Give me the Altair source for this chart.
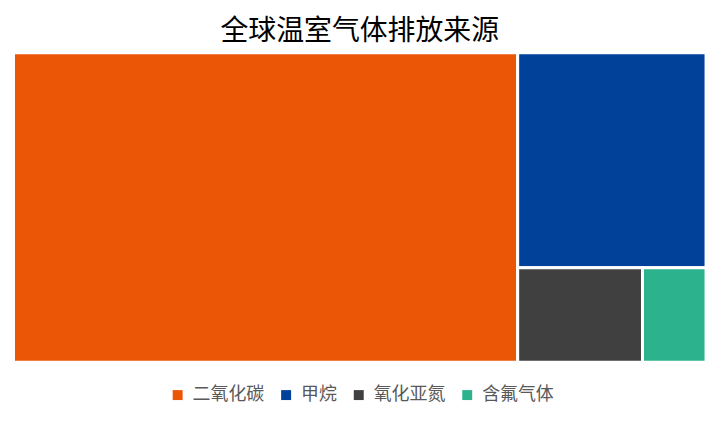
import altair as alt
import pandas as pd

# ---- data ----
gases = ["二氧化碳", "甲烷", "氧化亚氮", "含氟气体"]
shares = [72.8, 18.9, 5.5, 2.8]
colors = ["#EB5506", "#01419A", "#404040", "#2CB38E"]

title_text = "全球温室气体排放来源"

W, H = 696, 311


def squarify(values, x, y, w, h):
    """Squarified treemap layout; returns list of (x0, y0, x1, y1)."""
    total = sum(values)
    scale = w * h / total
    areas = [v * scale for v in values]
    rects = []

    def worst(row, side):
        s = sum(row)
        return max(max(side * side * r / (s * s), (s * s) / (side * side * r)) for r in row)

    def layout(row, x, y, w, h):
        s = sum(row)
        out = []
        if w >= h:  # column on the left
            cw = s / h
            cy = y
            for r in row:
                rh = r / cw
                out.append((x, cy, x + cw, cy + rh))
                cy += rh
            return out, (x + cw, y, w - cw, h)
        else:  # row on top
            rh = s / w
            cx = x
            for r in row:
                rw = r / rh
                out.append((cx, y, cx + rw, y + rh))
                cx += rw
            return out, (x, y + rh, w, h - rh)

    rest = list(areas)
    row = []
    while rest:
        side = min(w, h)
        cand = row + [rest[0]]
        if not row or worst(cand, side) <= worst(row, side):
            row = cand
            rest.pop(0)
        else:
            out, (x, y, w, h) = layout(row, x, y, w, h)
            rects += out
            row = []
    if row:
        out, _ = layout(row, x, y, w, h)
        rects += out
    return rects


rects = squarify(shares, 0, 0, W, H)
df = pd.DataFrame({
    "gas": gases,
    "share": shares,
    "x0": [r[0] for r in rects],
    "y0": [r[1] for r in rects],
    "x1": [r[2] for r in rects],
    "y1": [r[3] for r in rects],
})

xs = alt.Scale(domain=[0, W], nice=False, zero=False)
ys = alt.Scale(domain=[0, H], nice=False, zero=False, reverse=True)

chart = alt.Chart(df).mark_rect(stroke="white", strokeWidth=3).encode(
    x=alt.X("x0:Q", scale=xs, axis=None),
    x2="x1:Q",
    y=alt.Y("y0:Q", scale=ys, axis=None),
    y2="y1:Q",
    color=alt.Color(
        "gas:N",
        scale=alt.Scale(domain=gases, range=colors),
        sort=gases,
        legend=alt.Legend(
            title=None,
            orient="none",
            legendX=156,
            legendY=335,
            direction="horizontal",
            symbolType="square",
            symbolSize=100,
            symbolStrokeWidth=0,
            labelFont="Noto Sans CJK SC",
            labelFontSize=18,
            labelColor="#595959",
            labelOffset=6,
            columnPadding=13,
        ),
    ),
    tooltip=["gas:N", "share:Q"],
).properties(
    width=W,
    height=H,
    padding={"left": 3.5, "top": 9, "right": 5, "bottom": 5},
    title=alt.TitleParams(
        title_text,
        font="Noto Sans CJK SC",
        fontSize=28,
        fontWeight="normal",
        color="#000000",
        anchor="middle",
        offset=5,
    ),
).configure_view(stroke=None)

chart.save("out.html", embed_options={"renderer": "svg", "actions": False})
